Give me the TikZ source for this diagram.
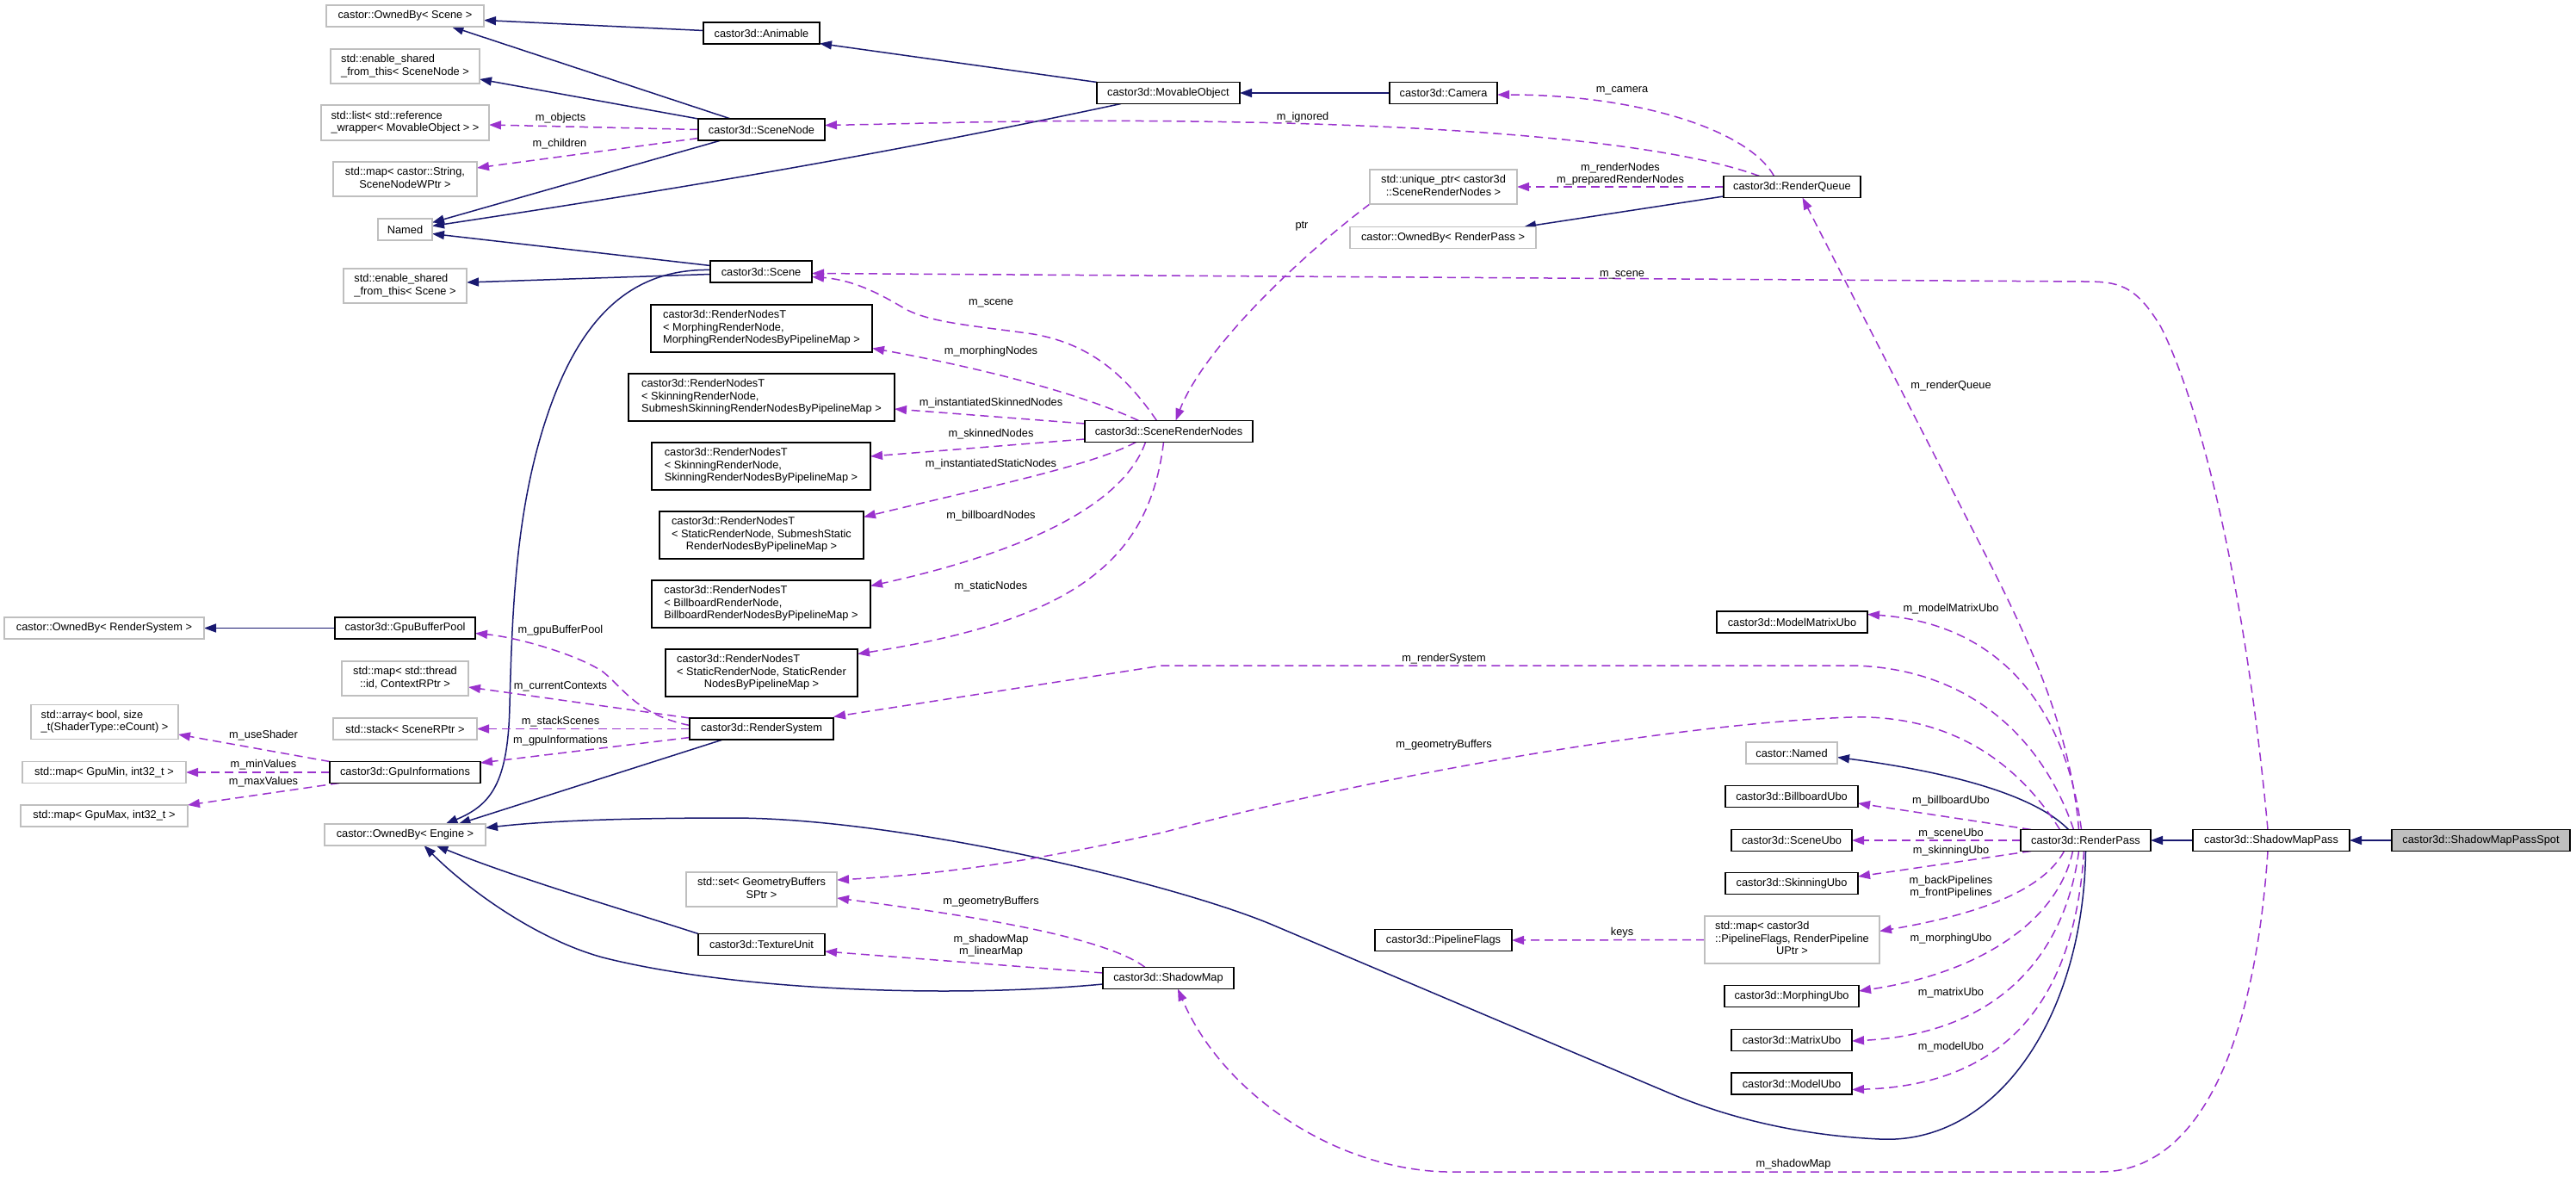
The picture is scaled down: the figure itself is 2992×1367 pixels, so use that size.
\documentclass[tikz,border=0pt]{standalone}
\usepackage{fontspec}
\setmainfont{Liberation Sans}
\usetikzlibrary{arrows.meta,calc,backgrounds}
\definecolor{inh}{HTML}{191970}
\definecolor{usg}{HTML}{9A32CD}
\definecolor{gbord}{HTML}{BFBFBF}
\newcommand\mlines[2]{\begin{tabular}{@{}l@{}}#1\\\multicolumn{1}{@{}c@{}}{#2}\end{tabular}}
\begin{document}
\begin{tikzpicture}[x=1pt,y=-1pt,
  font=\fontsize{12.8}{14.5}\selectfont,
  sz/.style 2 args={minimum width=#1, minimum height=#2},
  cls/.style={draw=black, line width=1.5pt, fill=white, inner sep=0pt, outer sep=0pt},
  ext/.style={draw=gbord, line width=1.5pt, fill=white, inner sep=0pt, outer sep=0pt},
  inhe/.style={draw=inh, line width=1.5pt, -{Triangle[length=14pt,width=10pt]}},
  use/.style={draw=usg, line width=1.5pt, dash pattern=on 10pt off 6pt, -{Triangle[length=14pt,width=10pt]}},
  lbl/.style={inner sep=0pt, align=center}]
\useasboundingbox (0,0) rectangle (2992,1367);
% ---------------- nodes
\node[ext, sz={183}{25}] (ownedScene) at (470.5,18.5) {castor::OwnedBy< Scene >};
\node[cls, sz={135}{25}] (animable) at (884.5,38.5) {castor3d::Animable};
\node[ext, sz={173}{40}] (esSceneNode) at (470.5,77) {\mlines{std::enable\_shared}{\_from\_this< SceneNode >}};
\node[ext, sz={195}{41}] (stdlist) at (470.5,142.5) {\mlines{std::list< std::reference}{\_wrapper< MovableObject > >}};
\node[cls, sz={147}{25}] (scenenode) at (884.5,150.5) {castor3d::SceneNode};
\node[ext, sz={167}{40}] (mapString) at (470.5,208) {\mlines{std::map< castor::String,}{SceneNodeWPtr >}};
\node[ext, sz={63}{25}] (named) at (470.5,266.5) {Named};
\node[cls, sz={118}{25}] (scene) at (884,315.5) {castor3d::Scene};
\node[ext, sz={143}{40}] (esScene) at (470.5,332) {\mlines{std::enable\_shared}{\_from\_this< Scene >}};
\node[cls, sz={257}{55}] (rnMorph) at (884.5,381.5) {\mlines{castor3d::RenderNodesT\\< MorphingRenderNode,}{MorphingRenderNodesByPipelineMap >}};
\node[cls, sz={309}{55}] (rnSkinSub) at (884.5,461.5) {\mlines{castor3d::RenderNodesT\\< SkinningRenderNode,}{SubmeshSkinningRenderNodesByPipelineMap >}};
\node[cls, sz={254}{55}] (rnSkin) at (884,541.5) {\mlines{castor3d::RenderNodesT\\< SkinningRenderNode,}{SkinningRenderNodesByPipelineMap >}};
\node[cls, sz={237}{55}] (rnStaticSub) at (884.5,621.5) {\mlines{castor3d::RenderNodesT\\< StaticRenderNode, SubmeshStatic}{RenderNodesByPipelineMap >}};
\node[cls, sz={254}{55}] (rnBill) at (884,701.5) {\mlines{castor3d::RenderNodesT\\< BillboardRenderNode,}{BillboardRenderNodesByPipelineMap >}};
\node[cls, sz={223}{55}] (rnStatic) at (884.5,781.5) {\mlines{castor3d::RenderNodesT\\< StaticRenderNode, StaticRender}{NodesByPipelineMap >}};
\node[cls, sz={163}{25}] (gpuBufferPool) at (470.5,729.5) {castor3d::GpuBufferPool};
\node[ext, sz={232}{25}] (ownedRS) at (121,729.5) {castor::OwnedBy< RenderSystem >};
\node[ext, sz={147}{40}] (mapThread) at (470.5,788) {\mlines{std::map< std::thread}{::id, ContextRPtr >}};
\node[ext, sz={167}{25}] (stack) at (470.5,846.5) {std::stack< SceneRPtr >};
\node[cls, sz={167}{25}] (rendersystem) at (884.5,846.5) {castor3d::RenderSystem};
\node[cls, sz={175}{25}] (gpuInfo) at (470.5,897) {castor3d::GpuInformations};
\node[ext, sz={171}{40}] (array) at (121.5,838.5) {\mlines{std::array< bool, size}{\_t(ShaderType::eCount) >}};
\node[ext, sz={190}{25}] (mapMin) at (121,897) {std::map< GpuMin, int32\_t >};
\node[ext, sz={194}{25}] (mapMax) at (121,947.5) {std::map< GpuMax, int32\_t >};
\node[ext, sz={187}{25}] (ownedEngine) at (470.5,969.5) {castor::OwnedBy< Engine >};
\node[ext, sz={175}{40}] (setGB) at (884.5,1033) {\mlines{std::set< GeometryBuffers}{SPtr >}};
\node[cls, sz={147}{25}] (textureUnit) at (884.5,1097) {castor3d::TextureUnit};
\node[cls, sz={166}{25}] (movable) at (1357,108) {castor3d::MovableObject};
\node[cls, sz={195}{25}] (srn) at (1357.5,501) {castor3d::SceneRenderNodes};
\node[cls, sz={152}{25}] (shadowMap) at (1357,1136) {castor3d::ShadowMap};
\node[cls, sz={125}{25}] (camera) at (1676.5,108) {castor3d::Camera};
\node[ext, sz={171}{40}] (uniquePtr) at (1676.5,217) {\mlines{std::unique\_ptr< castor3d}{::SceneRenderNodes >}};
\node[ext, sz={216}{25}] (ownedRP) at (1676,276) {castor::OwnedBy< RenderPass >};
\node[cls, sz={159}{25}] (pipelineFlags) at (1676.5,1092) {castor3d::PipelineFlags};
\node[cls, sz={159}{25}] (renderQueue) at (2081.5,217) {castor3d::RenderQueue};
\node[cls, sz={175}{25}] (modelMatrixUbo) at (2081.5,722.5) {castor3d::ModelMatrixUbo};
\node[ext, sz={106}{25}] (castorNamed) at (2081,874.5) {castor::Named};
\node[cls, sz={154}{25}] (billboardUbo) at (2081,925) {castor3d::BillboardUbo};
\node[cls, sz={140}{25}] (sceneUbo) at (2081,976) {castor3d::SceneUbo};
\node[cls, sz={154}{25}] (skinningUbo) at (2081,1026) {castor3d::SkinningUbo};
\node[ext, sz={203}{55}] (mapPF) at (2081.5,1091.5) {\mlines{std::map< castor3d\\::PipelineFlags, RenderPipeline}{UPtr >}};
\node[cls, sz={156}{25}] (morphingUbo) at (2081,1157) {castor3d::MorphingUbo};
\node[cls, sz={140}{25}] (matrixUbo) at (2081,1208) {castor3d::MatrixUbo};
\node[cls, sz={140}{25}] (modelUbo) at (2081,1258.5) {castor3d::ModelUbo};
\node[cls, sz={151}{25}] (renderPass) at (2422.5,976) {castor3d::RenderPass};
\node[cls, sz={182}{25}] (shadowMapPass) at (2638,976) {castor3d::ShadowMapPass};
\node[cls, sz={207}{25}, fill=gbord] (spot) at (2881.5,976) {castor3d::ShadowMapPassSpot};
% ---------------- edge labels
\node[lbl] (l-objects) at (651,137) {m\_objects};
\node[lbl] (l-children) at (650,167) {m\_children};
\node[lbl] (l-ignored) at (1513,136) {m\_ignored};
\node[lbl] (l-camera) at (1884,105) {m\_camera};
\node[lbl] (l-rnodes) at (1882,202) {m\_renderNodes\\m\_preparedRenderNodes};
\node[lbl] (l-ptr) at (1512,263) {ptr};
\node[lbl] (l-scene1) at (1884,319) {m\_scene};
\node[lbl] (l-scene2) at (1151,352) {m\_scene};
\node[lbl] (l-morph) at (1151,408) {m\_morphingNodes};
\node[lbl] (l-iskin) at (1151,468) {m\_instantiatedSkinnedNodes};
\node[lbl] (l-skin) at (1151,504) {m\_skinnedNodes};
\node[lbl] (l-istat) at (1151,539) {m\_instantiatedStaticNodes};
\node[lbl] (l-bill) at (1151,599) {m\_billboardNodes};
\node[lbl] (l-stat) at (1151,681) {m\_staticNodes};
\node[lbl] (l-rsys) at (1677,765) {m\_renderSystem};
\node[lbl] (l-gb1) at (1677,865) {m\_geometryBuffers};
\node[lbl] (l-gb2) at (1151,1047) {m\_geometryBuffers};
\node[lbl] (l-smlm) at (1151,1098) {m\_shadowMap\\m\_linearMap};
\node[lbl] (l-keys) at (1884,1083) {keys};
\node[lbl] (l-sm) at (2083,1352) {m\_shadowMap};
\node[lbl] (l-rq) at (2266,448) {m\_renderQueue};
\node[lbl] (l-mmu) at (2266,707) {m\_modelMatrixUbo};
\node[lbl] (l-bbu) at (2266,930) {m\_billboardUbo};
\node[lbl] (l-scu) at (2266,968) {m\_sceneUbo};
\node[lbl] (l-sku) at (2266,988) {m\_skinningUbo};
\node[lbl] (l-pipe) at (2266,1030) {m\_backPipelines\\m\_frontPipelines};
\node[lbl] (l-mou) at (2266,1090) {m\_morphingUbo};
\node[lbl] (l-mau) at (2266,1153) {m\_matrixUbo};
\node[lbl] (l-mdu) at (2266,1216) {m\_modelUbo};
\node[lbl] (l-gbp) at (651,732) {m\_gpuBufferPool};
\node[lbl] (l-cc) at (651,797) {m\_currentContexts};
\node[lbl] (l-ss) at (651,838) {m\_stackScenes};
\node[lbl] (l-gi) at (651,860) {m\_gpuInformations};
\node[lbl] (l-us) at (306,854) {m\_useShader};
\node[lbl] (l-min) at (306,888) {m\_minValues};
\node[lbl] (l-max) at (306,908) {m\_maxValues};
% ---------------- edges
\begin{scope}[on background layer]
% inheritance
\draw[inhe] ($(animable.west)+(0,-3)$) -- ($(ownedScene.east)+(0,5)$);
\draw[inhe] ($(scenenode.north)+(-36,0)$) -- ($(ownedScene.south)+(54,0)$);
\draw[inhe] (scenenode.north west) -- ($(esSceneNode.east)+(0,15)$);
\draw[inhe] ($(scenenode.south)+(-47,0)$) -- ($(named.east)+(0,-8)$);
\draw[inhe] ($(movable.south)+(-55,0)$) .. controls (1000,185) and (750,225) .. ($(named.east)+(0,-4)$);
\draw[inhe] (movable.north west) -- ($(animable.east)+(0,12)$);
\draw[inhe] (camera.west) -- (movable.east);
\draw[inhe] ($(scene.west)+(0,-7)$) -- ($(named.east)+(0,5)$);
\draw[inhe] ($(scene.west)+(0,3)$) -- ($(esScene.east)+(0,-4)$);
\draw[inhe] ($(scene.west)+(0,-2)$) .. controls (740,312) and (680,360) .. (640,470) .. controls (600,580) and (595,700) .. (592,820) .. controls (590,910) and (570,935) .. ($(ownedEngine.north)+(47,0)$);
\draw[inhe] ($(rendersystem.south)+(-45,0)$) -- ($(ownedEngine.north)+(62,0)$);
\draw[inhe] (renderPass.south) .. controls (2420,1180) and (2320,1330) .. (2183,1323) .. controls (2080,1318) and (2000,1295) .. (1940,1270) -- (1480,1075) .. controls (1370,1028) and (1050,950) .. (850,950) .. controls (700,950) and (620,955) .. ($(ownedEngine.east)+(0,-8)$);
\draw[inhe] (textureUnit.north west) .. controls (720,1055) and (600,1020) .. ($(ownedEngine.south)+(36,0)$);
\draw[inhe] ($(shadowMap.west)+(0,7)$) .. controls (1100,1160) and (850,1150) .. (700,1112) .. controls (620,1090) and (540,1030) .. ($(ownedEngine.south)+(22,0)$);
\draw[inhe] (gpuBufferPool.west) -- (ownedRS.east);
\draw[inhe] ($(renderQueue.west)+(0,11)$) -- ($(ownedRP.north east)+(-14,0)$);
\draw[inhe] ($(renderPass.north)+(-20,0)$) .. controls (2370,930) and (2290,900) .. ($(castorNamed.east)+(0,5)$);
\draw[inhe] (shadowMapPass.west) -- (renderPass.east);
\draw[inhe] (spot.west) -- (shadowMapPass.east);
% usage
\draw[use] (scenenode.west) -- ($(stdlist.east)+(0,2.5)$);
\draw[use] ($(scenenode.west)+(0,10)$) -- ($(mapString.east)+(0,-13)$);
\draw[use] ($(renderQueue.north)+(-38,0)$) .. controls (1950,170) and (1750,150) .. (1491,143) .. controls (1250,137) and (1100,143) .. ($(scenenode.east)+(0,-5)$);
\draw[use] ($(renderQueue.north)+(-21,0)$) .. controls (2030,150) and (1900,110) .. ($(camera.east)+(0,2)$);
\draw[use] (renderQueue.west) -- (uniquePtr.east);
\draw[use] (uniquePtr.south west) .. controls (1520,290) and (1400,400) .. ($(srn.north)+(8,0)$);
\draw[use] ($(shadowMapPass.north)+(-4,0)$) .. controls (2610,700) and (2560,480) .. (2510,380) .. controls (2480,330) and (2460,327) .. (2420,327) -- ($(scene.east)+(0,2)$);
\draw[use] ($(srn.north)+(-14,0)$) .. controls (1310,440) and (1270,400) .. (1200,388) .. controls (1130,378) and (1080,375) .. (1050,358) .. controls (1020,340) and (990,325) .. ($(scene.east)+(0,6)$);
\draw[use] ($(srn.north)+(-35,0)$) .. controls (1240,450) and (1100,420) .. ($(rnMorph.east)+(0,23)$);
\draw[use] ($(srn.west)+(0,-9)$) -- ($(rnSkinSub.east)+(0,13.5)$);
\draw[use] ($(srn.west)+(0,9)$) -- ($(rnSkin.east)+(0,-11.5)$);
\draw[use] ($(srn.south)+(-38,0)$) .. controls (1270,540) and (1150,565) .. ($(rnStaticSub.east)+(0,-21)$);
\draw[use] ($(srn.south)+(-27,0)$) .. controls (1300,600) and (1150,650) .. ($(rnBill.east)+(0,-21)$);
\draw[use] ($(srn.south)+(-6,0)$) .. controls (1335,650) and (1250,720) .. ($(rnStatic.east)+(0,-22)$);
\draw[use] ($(renderPass.north)+(-14,0)$) .. controls (2370,850) and (2280,775) .. (2150,773) -- (1350,773) -- ($(rendersystem.east)+(0,-14)$);
\draw[use] ($(renderPass.north)+(-30,0)$) .. controls (2340,880) and (2260,830) .. (2150,833) .. controls (1950,840) and (1600,900) .. (1350,967) .. controls (1200,1000) and (1100,1015) .. ($(setGB.east)+(0,-11)$);
\draw[use] ($(shadowMap.north)+(-27,0)$) .. controls (1280,1085) and (1100,1060) .. ($(setGB.east)+(0,10)$);
\draw[use] ($(shadowMap.west)+(0,-6)$) -- ($(textureUnit.east)+(0,8)$);
\draw[use] ($(shadowMapPass.south)+(-4,0)$) .. controls (2620,1200) and (2560,1360) .. (2440,1361) -- (1680,1361) .. controls (1550,1358) and (1420,1270) .. ($(shadowMap.south)+(11,0)$);
\draw[use] ($(renderPass.north)+(-8,0)$) .. controls (2405,850) and (2360,750) .. (2309,650) -- ($(renderQueue.south)+(12,0)$);
\draw[use] ($(renderPass.north)+(-5,0)$) .. controls (2400,830) and (2330,725) .. ($(modelMatrixUbo.east)+(0,-9)$);
\draw[use] ($(renderPass.north west)+(12,0)$) -- ($(billboardUbo.east)+(0,8)$);
\draw[use] (renderPass.west) -- (sceneUbo.east);
\draw[use] ($(renderPass.south west)+(12,0)$) -- ($(skinningUbo.east)+(0,-8)$);
\draw[use] ($(renderPass.south)+(-25,0)$) .. controls (2370,1040) and (2280,1065) .. ($(mapPF.east)+(0,-10)$);
\draw[use] (mapPF.west) -- (pipelineFlags.east);
\draw[use] ($(renderPass.south)+(-15,0)$) .. controls (2390,1070) and (2300,1130) .. ($(morphingUbo.east)+(0,-6)$);
\draw[use] ($(renderPass.south)+(-8,0)$) .. controls (2400,1100) and (2330,1200) .. ($(matrixUbo.east)+(0,1)$);
\draw[use] ($(renderPass.south)+(-2,0)$) .. controls (2410,1150) and (2340,1260) .. ($(modelUbo.east)+(0,7)$);
\draw[use] ($(rendersystem.west)+(0,-4)$) .. controls (740,830) and (725,800) .. (700,780) .. controls (670,760) and (600,740) .. ($(gpuBufferPool.east)+(0,6)$);
\draw[use] (rendersystem.north west) -- ($(mapThread.east)+(0,10)$);
\draw[use] (rendersystem.west) -- (stack.east);
\draw[use] ($(rendersystem.west)+(0,10)$) -- ($(gpuInfo.east)+(0,-11)$);
\draw[use] (gpuInfo.north west) -- ($(array.east)+(0,14.5)$);
\draw[use] (gpuInfo.west) -- (mapMin.east);
\draw[use] ($(gpuInfo.south west)+(11,0)$) -- ($(mapMax.east)+(0,-12.5)$);
\end{scope}
\end{tikzpicture}
\end{document}
